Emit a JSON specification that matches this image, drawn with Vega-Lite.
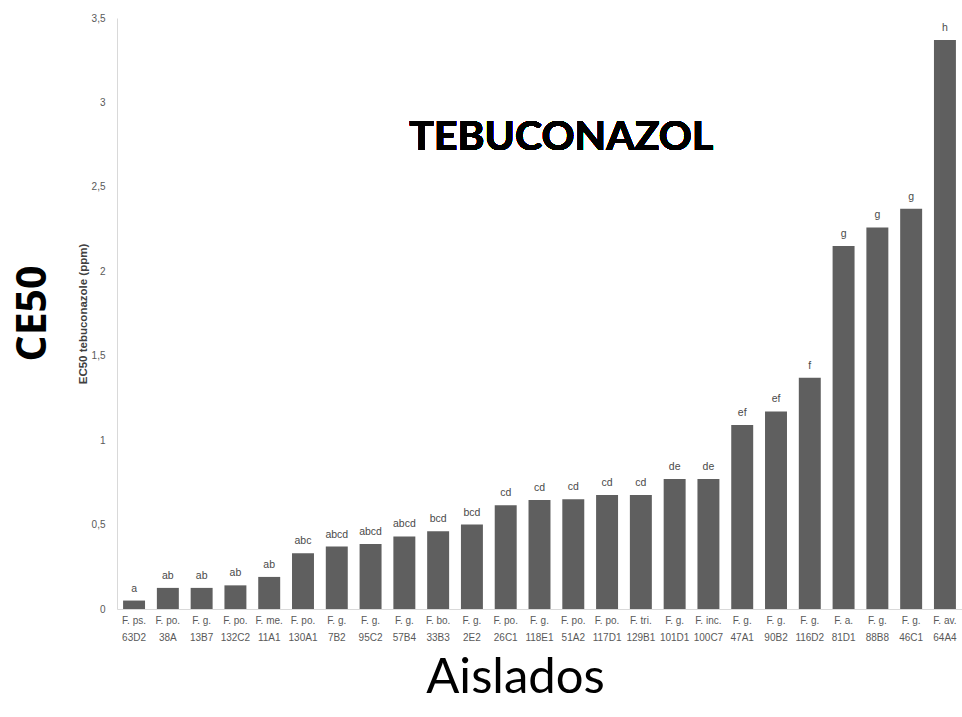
{
  "$schema": "https://vega.github.io/schema/vega-lite/v6.json",
  "width": 845,
  "height": 591,
  "autosize": {"type": "none"},
  "padding": {"left": 117, "top": 18, "right": 0, "bottom": 108},
  "background": "white",
  "title": {
    "text": "CE50",
    "orient": "left",
    "anchor": "middle",
    "font": "Open Sans",
    "fontSize": 41,
    "fontWeight": "bold",
    "color": "black",
    "offset": 22
  },
  "config": {
    "view": {"stroke": null},
    "font": "Liberation Sans"
  },
  "data": {
    "values": [
      {"isolate": "F. ps. 63D2", "ec50": 0.05, "group": "a"},
      {"isolate": "F. po. 38A", "ec50": 0.125, "group": "ab"},
      {"isolate": "F. g. 13B7", "ec50": 0.125, "group": "ab"},
      {"isolate": "F. po. 132C2", "ec50": 0.14, "group": "ab"},
      {"isolate": "F. me. 11A1", "ec50": 0.19, "group": "ab"},
      {"isolate": "F. po. 130A1", "ec50": 0.33, "group": "abc"},
      {"isolate": "F. g. 7B2", "ec50": 0.37, "group": "abcd"},
      {"isolate": "F. g. 95C2", "ec50": 0.385, "group": "abcd"},
      {"isolate": "F. g. 57B4", "ec50": 0.43, "group": "abcd"},
      {"isolate": "F. bo. 33B3", "ec50": 0.46, "group": "bcd"},
      {"isolate": "F. g. 2E2", "ec50": 0.5, "group": "bcd"},
      {"isolate": "F. po. 26C1", "ec50": 0.615, "group": "cd"},
      {"isolate": "F. g. 118E1", "ec50": 0.645, "group": "cd"},
      {"isolate": "F. po. 51A2", "ec50": 0.65, "group": "cd"},
      {"isolate": "F. po. 117D1", "ec50": 0.675, "group": "cd"},
      {"isolate": "F. tri. 129B1", "ec50": 0.675, "group": "cd"},
      {"isolate": "F. g. 101D1", "ec50": 0.77, "group": "de"},
      {"isolate": "F. inc. 100C7", "ec50": 0.77, "group": "de"},
      {"isolate": "F. g. 47A1", "ec50": 1.09, "group": "ef"},
      {"isolate": "F. g. 90B2", "ec50": 1.17, "group": "ef"},
      {"isolate": "F. g. 116D2", "ec50": 1.37, "group": "f"},
      {"isolate": "F. a. 81D1", "ec50": 2.15, "group": "g"},
      {"isolate": "F. g. 88B8", "ec50": 2.26, "group": "g"},
      {"isolate": "F. g. 46C1", "ec50": 2.37, "group": "g"},
      {"isolate": "F. av. 64A4", "ec50": 3.37, "group": "h"}
    ]
  },
  "encoding": {
    "x": {
      "field": "isolate",
      "type": "nominal",
      "sort": null,
      "scale": {"paddingInner": 0.35, "paddingOuter": 0.18},
      "axis": {
        "title": "Aislados",
        "titleFont": "Lato",
        "titleFontSize": 49,
        "titleFontWeight": "normal",
        "titleColor": "black",
        "titlePadding": 11,
        "titleX": 398,
        "labelAngle": 0,
        "labelFont": "Liberation Sans",
        "labelFontSize": 10,
        "labelColor": "#595959",
        "labelPadding": 6,
        "labelLineHeight": 17,
        "labelExpr": "[slice(datum.label, 0, lastindexof(datum.label, ' ')), slice(datum.label, lastindexof(datum.label, ' ') + 1)]",
        "ticks": false,
        "domainColor": "#d9d9d9",
        "labelBound": false
      }
    },
    "y": {
      "field": "ec50",
      "type": "quantitative",
      "scale": {"domain": [0, 3.5], "nice": false},
      "axis": {
        "title": "EC50 tebuconazole (ppm)",
        "titleFont": "Liberation Sans",
        "titleFontSize": 11.5,
        "titleFontWeight": "bold",
        "titleColor": "#404040",
        "titlePadding": 3,
        "values": [0, 0.5, 1, 1.5, 2, 2.5, 3, 3.5],
        "format": "~g",
        "labelExpr": "replace(datum.label, '.', ',')",
        "labelFont": "Liberation Sans",
        "labelFontSize": 10,
        "labelColor": "#595959",
        "labelPadding": 12,
        "ticks": false,
        "grid": false,
        "domainColor": "#d9d9d9"
      }
    }
  },
  "layer": [
    {
      "mark": {"type": "bar", "color": "#5f5f5f"}
    },
    {
      "mark": {
        "type": "text",
        "baseline": "bottom",
        "dy": -7,
        "font": "Liberation Sans",
        "fontSize": 10.5,
        "color": "#4a4a4a"
      },
      "encoding": {"text": {"field": "group"}}
    },
    {
      "mark": {
        "type": "text",
        "baseline": "middle",
        "align": "center",
        "dx": -12,
        "font": "Lato",
        "fontSize": 41,
        "fontWeight": "bold",
        "color": "black"
      },
      "encoding": {
        "x": {"datum": "F. po. 51A2", "type": "nominal"},
        "y": {"datum": 2.79, "type": "quantitative"},
        "text": {"value": "TEBUCONAZOL"}
      }
    }
  ]
}
